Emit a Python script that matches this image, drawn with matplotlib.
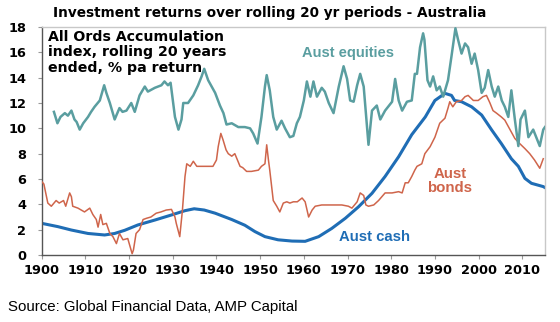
import numpy as np
import matplotlib
matplotlib.use("Agg")
import matplotlib.pyplot as plt

plt.rcParams['font.family'] = ['DejaVu Sans']

# rolling 20 yr returns, % pa  (year, value)
eq_years = [1902.8, 1903.6, 1904.3, 1905.3, 1906.0, 1906.8, 1907.5, 1908.0, 1908.7, 1909.5,
            1910.6, 1911.3, 1912.1, 1913.3, 1914.3, 1914.8, 1915.6, 1916.7, 1917.8, 1918.5,
            1919.4, 1920.5, 1921.3, 1922.4, 1923.6, 1924.3, 1925.9, 1927.4, 1928.1, 1928.9,
            1929.5, 1929.9, 1930.5, 1931.3, 1932.0, 1932.4, 1933.5, 1934.7, 1935.8, 1936.6,
            1937.2, 1938.1, 1939.7, 1940.8, 1941.6, 1942.3, 1943.5, 1945.0, 1946.5, 1947.7,
            1948.4, 1949.4, 1950.3, 1951.1, 1951.5, 1952.2, 1953.0, 1953.8, 1954.9, 1955.7,
            1956.8, 1957.6, 1958.4, 1959.1, 1960.0, 1960.7, 1961.5, 1962.2, 1963.0, 1964.1,
            1964.8, 1965.7, 1966.8, 1968.0, 1969.1, 1969.9, 1970.6, 1971.4, 1972.2, 1972.9,
            1973.7, 1974.2, 1974.8, 1975.6, 1976.7, 1977.5, 1978.6, 1980.2, 1980.9, 1981.7,
            1982.5, 1983.6, 1984.7, 1985.4, 1985.9, 1986.6, 1987.3, 1987.6, 1988.3, 1988.9,
            1989.6, 1990.4, 1991.1, 1991.9, 1993.0, 1993.8, 1994.7, 1995.3, 1996.1, 1996.9,
            1997.6, 1998.4, 1999.1, 1999.9, 2000.7, 2001.4, 2002.2, 2003.0, 2003.7, 2004.5,
            2005.3, 2006.0, 2006.8, 2007.5, 2008.3, 2009.1, 2009.6, 2010.6, 2011.4, 2012.5,
            2013.2, 2014.0, 2014.8, 2015.2]
eq_vals = [11.3, 10.4, 10.9, 11.2, 11.0, 11.4, 10.7, 10.5, 9.9, 10.4,
           10.9, 11.3, 11.7, 12.2, 13.4, 12.8, 12.0, 10.7, 11.6, 11.3,
           11.4, 12.0, 11.3, 12.6, 13.3, 12.9, 13.2, 13.4, 13.7, 13.4,
           13.6, 12.5, 10.9, 9.9, 10.7, 12.0, 12.0, 12.6, 13.4, 14.1,
           14.7, 13.8, 12.8, 11.8, 11.2, 10.3, 10.4, 10.1, 10.1, 10.0,
           9.6, 8.8, 10.9, 13.3, 14.2, 13.0, 10.9, 9.9, 10.6, 10.0,
           9.3, 9.4, 10.4, 10.9, 12.2, 13.7, 12.5, 13.7, 12.5, 13.2,
           12.9, 12.0, 11.2, 13.3, 14.9, 13.9, 12.2, 12.1, 13.4, 14.3,
           13.3, 11.2, 8.7, 11.4, 11.8, 10.7, 11.4, 12.1, 13.9, 12.2,
           11.4, 12.1, 12.2, 14.3, 14.3, 16.4, 17.5, 17.0, 13.8, 13.3,
           14.1, 13.0, 13.3, 12.5, 13.8, 15.7, 17.9, 17.0, 15.9, 16.7,
           16.4, 15.1, 15.9, 14.6, 12.8, 13.2, 14.6, 13.3, 12.5, 13.3,
           12.2, 11.7, 10.9, 13.0, 10.7, 8.6, 10.7, 11.4, 9.3, 9.9,
           9.3, 8.6, 9.9, 10.1]

bond_years = [1900.0, 1900.5, 1901.4, 1902.2, 1903.3, 1904.0, 1905.0, 1905.5, 1906.4, 1906.8,
              1907.1, 1908.3, 1909.8, 1911.0, 1911.7, 1912.5, 1912.9, 1913.5, 1914.0, 1914.8,
              1915.6, 1916.3, 1917.1, 1917.8, 1918.6, 1919.7, 1920.7, 1921.0, 1921.6, 1922.4,
              1923.2, 1924.0, 1925.0, 1926.2, 1927.3, 1928.5, 1929.7, 1930.5, 1930.8, 1931.6,
              1932.2, 1932.8, 1933.2, 1934.0, 1934.7, 1935.5, 1936.6, 1938.1, 1939.2, 1940.0,
              1940.4, 1941.0, 1941.5, 1942.2, 1942.7, 1943.5, 1944.2, 1944.8, 1945.4, 1946.0,
              1946.9, 1948.0, 1949.6, 1950.3, 1951.1, 1951.5, 1951.9, 1952.2, 1953.0, 1953.8,
              1954.5, 1955.3, 1956.1, 1956.8, 1957.6, 1958.5, 1959.6, 1960.3, 1961.1, 1961.9,
              1962.6, 1964.1, 1965.7, 1967.2, 1968.7, 1970.2, 1971.0, 1972.2, 1972.9, 1973.7,
              1974.2, 1974.8, 1976.0, 1977.1, 1978.6, 1980.2, 1981.7, 1982.5, 1983.2, 1983.9,
              1984.7, 1985.4, 1985.9, 1987.0, 1987.7, 1988.9, 1990.0, 1991.1, 1992.3, 1993.0,
              1993.4, 1994.1, 1994.9, 1996.1, 1996.9, 1997.6, 1998.8, 1999.9, 2001.0, 2001.8,
              2002.6, 2003.3, 2004.1, 2005.2, 2006.0, 2007.2, 2008.3, 2009.4, 2010.6, 2011.7,
              2012.8, 2014.0, 2014.8]
bond_vals = [5.8, 5.6, 4.1, 3.85, 4.3, 4.1, 4.3, 3.85, 4.9, 4.6,
             3.85, 3.7, 3.4, 3.7, 3.2, 2.8, 2.2, 3.2, 2.4, 2.5,
             1.7, 1.45, 0.9, 1.7, 1.2, 1.3, 0.1, 0.4, 1.7, 2.0,
             2.8, 2.9, 3.0, 3.3, 3.4, 3.55, 3.6, 3.0, 2.5, 1.45,
             3.5, 6.2, 7.2, 7.0, 7.4, 7.0, 7.0, 7.0, 7.0, 7.5,
             8.55, 9.6, 9.1, 8.3, 8.0, 7.8, 8.0, 7.5, 7.0, 6.9,
             6.6, 6.6, 6.7, 7.0, 7.2, 8.7, 7.5, 6.7, 4.3, 3.85,
             3.4, 4.1, 4.2, 4.1, 4.2, 4.2, 4.5, 4.2, 3.0, 3.55,
             3.85, 3.95, 3.95, 3.95, 3.95, 3.85, 3.7, 4.2, 4.9, 4.7,
             3.95, 3.85, 3.95, 4.3, 4.9, 4.9, 5.0, 4.9, 5.7, 5.7,
             6.2, 6.7, 7.0, 7.2, 8.0, 8.55, 9.3, 10.4, 10.8, 11.6,
             12.1, 11.7, 12.1, 12.2, 12.5, 12.6, 12.2, 12.2, 12.5, 12.6,
             12.0, 11.4, 11.2, 10.9, 10.65, 9.9, 9.2, 8.8, 8.4, 8.0,
             7.5, 6.85, 7.6]

cash_years = [1900.0, 1903.7, 1906.8, 1910.6, 1914.4, 1916.7, 1919.0, 1922.0, 1925.9, 1929.7,
              1932.8, 1934.9, 1937.2, 1939.7, 1943.5, 1946.5, 1948.8, 1951.1, 1954.1, 1957.3,
              1960.3, 1963.4, 1966.4, 1969.5, 1972.5, 1975.6, 1978.6, 1981.7, 1984.7, 1987.8,
              1990.0, 1992.3, 1993.8, 1994.5, 1996.1, 1998.4, 2000.7, 2003.0, 2005.2, 2007.5,
              2009.1, 2010.6, 2012.1, 2014.8, 2015.3]
cash_vals = [2.5, 2.24, 1.97, 1.7, 1.58, 1.7, 1.95, 2.37, 2.76, 3.16,
             3.5, 3.65, 3.55, 3.3, 2.8, 2.35, 1.85, 1.45, 1.2, 1.1,
             1.08, 1.45, 2.1, 2.9, 3.8, 4.87, 6.2, 7.76, 9.5, 10.9,
             12.2, 12.76, 12.6, 12.2, 12.1, 11.7, 11.05, 9.87, 8.8, 7.6,
             7.0, 6.05, 5.66, 5.4, 5.3]

x_ticks = list(range(1900, 2011, 10))
y_ticks = list(range(0, 19, 2))

teal = '#5a9ea0'
red = '#cf654b'
blue = '#1f6db5'
arial = ['Liberation Sans', 'DejaVu Sans']

fig = plt.figure(figsize=(5.6, 3.22), dpi=100)
ax = fig.add_axes([41.7 / 560, 1 - 255 / 322, 503.3 / 560, 228 / 322])

ax.plot(cash_years, cash_vals, color=blue, lw=2.2, solid_capstyle='round', zorder=2)
ax.plot(bond_years, bond_vals, color=red, lw=1.1, zorder=3)
ax.plot(eq_years, eq_vals, color=teal, lw=1.8, zorder=4)

ax.set_xlim(1900, 2015.2)
ax.set_ylim(0, 18)
ax.set_xticks(x_ticks)
ax.set_yticks(y_ticks)
ax.tick_params(axis='both', labelsize=9.3, length=3, width=0.8, color='#999999')
ax.tick_params(axis='x', pad=3.5)
ax.tick_params(axis='y', pad=8)
for lab in ax.get_xticklabels() + ax.get_yticklabels():
    lab.set_fontweight('bold')

for side in ['left', 'bottom']:
    ax.spines[side].set_color('#555555')
    ax.spines[side].set_linewidth(1.0)
for side in ['top', 'right']:
    ax.spines[side].set_color('#c8c8c8')
    ax.spines[side].set_linewidth(1.0)

fig.text(270 / 560, 1 - 13.5 / 322, 'Investment returns over rolling 20 yr periods - Australia',
         ha='center', va='center', fontsize=9.8, fontweight='bold')

ax.text(1901.5, 17.8, 'All Ords Accumulation\nindex, rolling 20 years\nended, % pa return',
        ha='left', va='top', fontsize=10.2, fontweight='bold', linespacing=1.15)

# series labels
ax.text(1959.5, 15.95, 'Aust equities', color=teal, ha='left', va='center',
        fontsize=10.5, fontweight='bold', family=arial)
ax.text(1993.4, 5.85, 'Aust\nbonds', color=red, ha='center', va='center',
        fontsize=10.8, fontweight='bold', family=arial, linespacing=1.05)
ax.text(1968.0, 1.42, 'Aust cash', color=blue, ha='left', va='center',
        fontsize=10.7, fontweight='bold', family=arial)

fig.text(8 / 560, 1 - 307 / 322, 'Source: Global Financial Data, AMP Capital',
         ha='left', va='center', fontsize=10.8, family=arial)

fig.savefig('out.png', dpi=100)
